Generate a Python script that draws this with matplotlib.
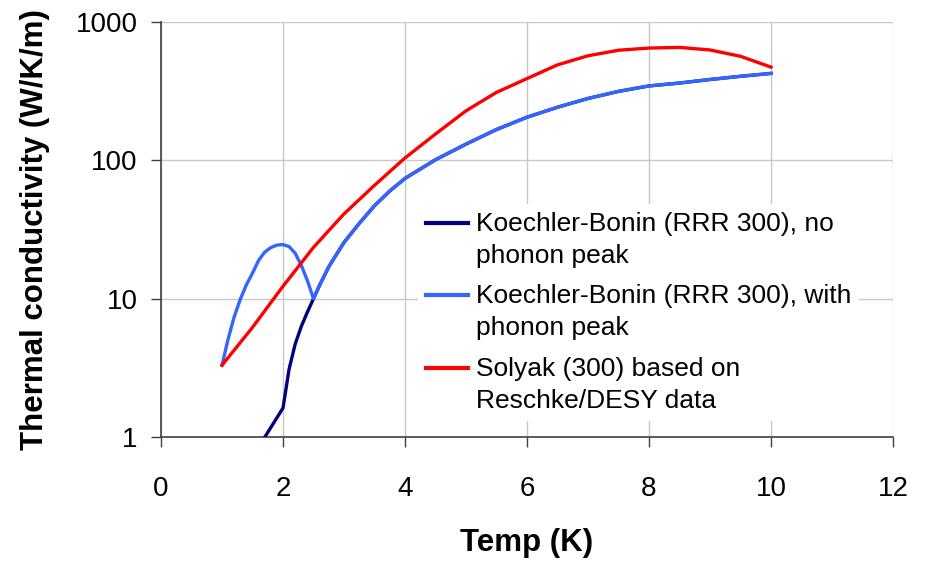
import numpy as np
import matplotlib
matplotlib.use("Agg")
import matplotlib.pyplot as plt
from matplotlib.ticker import FixedLocator, FixedFormatter, NullLocator
from matplotlib.legend_handler import HandlerLine2D

plt.rcParams['font.family'] = ['Liberation Sans', 'DejaVu Sans']

# --- Data ---
# Koechler-Bonin, no phonon peak (low-T part)
t_kb_nopeak = [1.5, 2.0, 2.1, 2.2, 2.3, 2.4, 2.5]
k_kb_nopeak = [0.72, 1.62, 3.1, 4.7, 6.3, 8.0, 10.0]

# Koechler-Bonin, with phonon peak (low-T part)
t_kb_peak = [1.0, 1.1, 1.2, 1.3, 1.4, 1.5, 1.6, 1.7, 1.8, 1.9, 2.0, 2.1, 2.2, 2.3, 2.4, 2.5]
k_kb_peak = [3.3, 5.1, 7.4, 9.9, 12.6, 15.3, 18.9, 21.7, 23.4, 24.4, 24.6, 23.8, 21.3, 17.4, 13.5, 10.0]

# Shared Koechler-Bonin high-T part (both curves coincide above 2.5 K)
t_kb_tail = [2.6, 2.75, 3.0, 3.25, 3.5, 3.75, 4.0, 4.5, 5.0, 5.5, 6.0, 6.5, 7.0, 7.5, 8.0, 8.5, 9.0, 9.5, 10.0]
k_kb_tail = [12.5, 17, 25.5, 35, 47, 60, 74, 101, 131, 167, 205, 242, 280, 315, 345, 362, 384, 405, 425]

# Solyak (300) based on Reschke/DESY data
t_solyak = [1.0, 1.5, 2.0, 2.5, 3.0, 3.5, 4.0, 4.5, 5.0, 5.5, 6.0, 6.5, 7.0, 7.5, 8.0, 8.5, 9.0, 9.5, 10.0]
k_solyak = [3.3, 6.2, 12.3, 23.5, 41, 66, 104, 155, 228, 310, 390, 490, 570, 625, 648, 655, 628, 565, 472]

labels = ["Koechler-Bonin (RRR 300), no\nphonon peak",
          "Koechler-Bonin (RRR 300), with\nphonon peak",
          "Solyak (300) based on\nReschke/DESY data"]
colors = ["#000080", "#3366FF", "#FF0000"]

x_ticks = [0, 2, 4, 6, 8, 10, 12]
y_ticks = [1, 10, 100, 1000]
y_tick_labels = ["1", "10", "100", "1000"]


class TopLineHandler(HandlerLine2D):
    """Place the legend line at the level of the first text line."""
    def create_artists(self, legend, orig_handle, xdescent, ydescent,
                       width, height, fontsize, trans):
        arts = super().create_artists(legend, orig_handle, xdescent, ydescent,
                                      width, height, fontsize, trans)
        for a in arts:
            y = np.asarray(a.get_ydata(), dtype=float)
            a.set_ydata(y + 0.66 * fontsize)
        return arts


# --- Figure ---
fig = plt.figure(figsize=(9.32, 5.61), dpi=100)
ax = fig.add_axes([161/932, 1 - 437/561, (893-161)/932, (437-22)/561])

l0, = ax.plot(t_kb_nopeak + t_kb_tail, k_kb_nopeak + k_kb_tail, color=colors[0], lw=2.4, label=labels[0], zorder=3)
l1, = ax.plot(t_kb_peak + t_kb_tail, k_kb_peak + k_kb_tail, color=colors[1], lw=2.4, label=labels[1], zorder=4)
l2, = ax.plot(t_solyak, k_solyak, color=colors[2], lw=2.4, label=labels[2], zorder=5)

ax.set_yscale('log')
ax.set_xlim(0, 12)
ax.set_ylim(1, 1000)
ax.xaxis.set_major_locator(FixedLocator(x_ticks))
ax.yaxis.set_major_locator(FixedLocator(y_ticks))
ax.yaxis.set_major_formatter(FixedFormatter(y_tick_labels))
ax.yaxis.set_minor_locator(NullLocator())

ax.grid(True, color="#c8c8c8", lw=1.0)
ax.set_axisbelow(True)
for s in ['top', 'right']:
    ax.spines[s].set_visible(False)
for s in ['left', 'bottom']:
    ax.spines[s].set_color('#404040')
    ax.spines[s].set_linewidth(1.2)

ax.tick_params(axis='both', direction='out', length=7, width=1.0, color='#404040', labelsize=20)
ax.tick_params(axis='x', pad=21)
ax.tick_params(axis='y', pad=10)

ax.set_xlabel("Temp (K)", fontsize=22.5, fontweight='bold', labelpad=19)
ax.set_ylabel("Thermal conductivity (W/K/m)", fontsize=22.5, fontweight='bold', labelpad=18)

handler = TopLineHandler()
leg = ax.legend(handles=[l0, l1, l2], loc='upper left', bbox_to_anchor=(0.333, 0.593), fontsize=19,
                frameon=True, fancybox=False, edgecolor='none', facecolor='white', framealpha=1,
                handlelength=1.6, handletextpad=0.3, labelspacing=0.62, borderpad=0.3,
                handler_map={l0: handler, l1: handler, l2: handler})
for txt in leg.get_texts():
    txt.set_linespacing(1.42)
for line in leg.get_lines():
    line.set_linewidth(3)

fig.savefig("out.png", dpi=100)
